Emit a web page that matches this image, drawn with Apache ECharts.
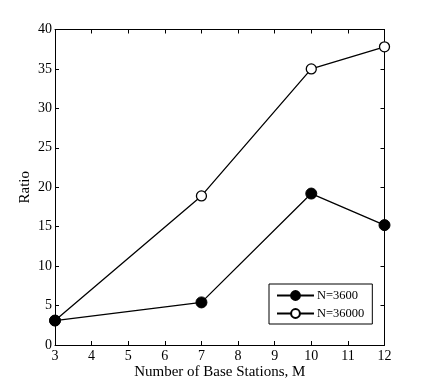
<!DOCTYPE html>
<html>
<head>
<meta charset="utf-8">
<script src="https://cdn.jsdelivr.net/npm/echarts@6/dist/echarts.min.js"></script>
<style>
    html, body { margin: 0; padding: 0; background: #fff; }
    #main { width: 425px; height: 389px; }
</style>
</head>
<body>
<div id="main"></div>
<script>
// 基站数量
let stations = [3, 7, 10, 12];
// 两组比值
let ratio3600 = [3.1, 5.4, 19.2, 15.2];
let ratio36000 = [3.1, 18.9, 35.0, 37.8];
let seriesNames = ['N=3600', 'N=36000'];

let font = 'Liberation Serif';

function toPairs(xs, ys) {
    let out = [];
    for (let i = 0; i < xs.length; i++) {
        out.push([xs[i], ys[i]]);
    }
    return out;
}

let chart = echarts.init(document.getElementById('main'));

let tickStyle = {show: true, inside: true, length: 4, lineStyle: {color: '#000', width: 1}};
let lineStyle = {show: true, onZero: false, lineStyle: {color: '#000', width: 1}};

let option = {
    backgroundColor: '#fff',
    animation: false,
    grid: {
        left: 55,
        right: 40.5,
        top: 29.5,
        bottom: 44,
        show: false
    },
    legend: {
        orient: 'vertical',
        left: 269,
        top: 284,
        padding: [5, 8, 4, 7],
        itemGap: 5,
        itemWidth: 37,
        itemHeight: 11,
        borderColor: '#000',
        borderWidth: 1,
        backgroundColor: '#fff',
        textStyle: {fontFamily: font, fontSize: 12.5, color: '#000', padding: [0, 0, 0, -2]},
        data: seriesNames
    },
    xAxis: [
        {
            type: 'value',
            min: 3,
            max: 12,
            interval: 1,
            name: 'Number of Base Stations, M',
            nameLocation: 'middle',
            nameGap: 20,
            nameMoveOverlap: false,
            nameTextStyle: {fontFamily: font, fontSize: 15, color: '#000'},
            axisLine: lineStyle,
            axisTick: tickStyle,
            axisLabel: {fontFamily: font, fontSize: 14, color: '#000', margin: 4},
            splitLine: {show: false}
        },
        {
            type: 'value',
            position: 'top',
            min: 3,
            max: 12,
            interval: 1,
            axisLine: lineStyle,
            axisTick: tickStyle,
            axisLabel: {show: false},
            splitLine: {show: false}
        }
    ],
    yAxis: [
        {
            type: 'value',
            min: 0,
            max: 40,
            interval: 5,
            name: 'Ratio',
            nameLocation: 'middle',
            nameGap: 22,
            nameMoveOverlap: false,
            nameTextStyle: {fontFamily: font, fontSize: 15, color: '#000'},
            axisLine: lineStyle,
            axisTick: tickStyle,
            axisLabel: {fontFamily: font, fontSize: 14, color: '#000', margin: 3},
            splitLine: {show: false}
        },
        {
            type: 'value',
            position: 'right',
            min: 0,
            max: 40,
            interval: 5,
            axisLine: lineStyle,
            axisTick: tickStyle,
            axisLabel: {show: false},
            splitLine: {show: false}
        }
    ],
    series: [
        {
            name: seriesNames[0],
            type: 'line',
            data: toPairs(stations, ratio3600),
            symbol: 'circle',
            symbolSize: 11,
            itemStyle: {color: '#000', borderColor: '#000', borderWidth: 1},
            lineStyle: {color: '#000', width: 1.3},
            z: 3
        },
        {
            name: seriesNames[1],
            type: 'line',
            data: toPairs(stations, ratio36000),
            symbol: 'circle',
            symbolSize: 10,
            itemStyle: {color: '#fff', borderColor: '#000', borderWidth: 1.3},
            lineStyle: {color: '#000', width: 1.3},
            z: 2
        }
    ]
};

chart.setOption(option);
</script>
</body>
</html>
